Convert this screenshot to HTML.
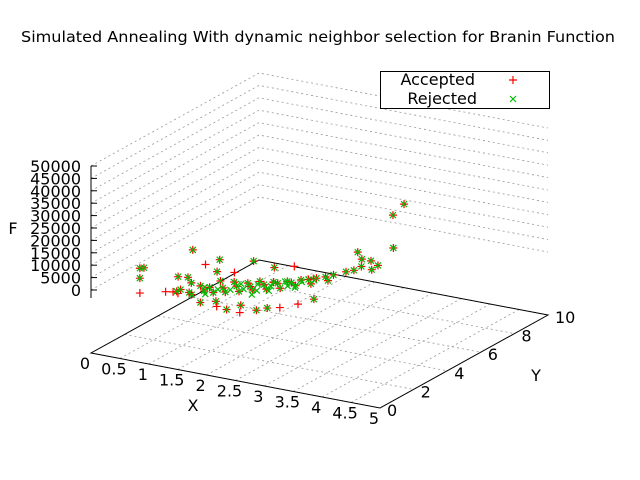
<!DOCTYPE html>
<html><head><meta charset="utf-8"><style>
html,body{margin:0;padding:0;background:#fff;}
svg{display:block;font-family:"DejaVu Sans","Liberation Sans",sans-serif;}
</style></head><body>
<svg id="chart" width="640" height="480" viewBox="0 0 640 480" xmlns="http://www.w3.org/2000/svg">
<rect width="640" height="480" fill="#fff"/>
<text x="318" y="42" text-anchor="middle" font-size="15.5" fill="#000" textLength="594" lengthAdjust="spacingAndGlyphs">Simulated Annealing With dynamic neighbor selection for Branin Function</text>
<g id="grid"></g>
<g id="axes"></g>
<g id="marks"></g>
<text x="13" y="234" text-anchor="middle" font-size="16">F</text>
<text x="193" y="411" text-anchor="middle" font-size="16">X</text>
<text x="536" y="381" text-anchor="middle" font-size="16">Y</text>
<g>
<rect x="380.5" y="71.5" width="169" height="37" fill="#fff" stroke="#000"/>
<text x="475" y="85" text-anchor="end" font-size="16">Accepted</text>
<text x="477" y="104" text-anchor="end" font-size="16">Rejected</text>
<path d="M509 80h8M513 76v8" stroke="#f00" stroke-width="1.2"/>
<path d="M510 96l6 6M516 96l-6 6" stroke="#0b0" stroke-width="1.2"/>
</g>
</svg>
<script>
const xTicks=["0","0.5","1","1.5","2","2.5","3","3.5","4","4.5","5"];
const yTicks=["0","2","4","6","8","10"];
const zTicks=["0","5000","10000","15000","20000","25000","30000","35000","40000","45000","50000"];
// Accepted points [x,y,F]
const accepted=[[0.7,0.5,0],[1.0,1.0,0],[1.1,1.1,0],[1.2,1.05,0],[0.7,0.5,10000],[0.8,0.4,11000],[0.7,0.5,6000],
[1.2,1.2,1000],[1.25,0.8,2000],[1.3,1.5,3000],[1.35,1.2,500],[1.4,1.7,1500],[1.45,1.0,800],[1.5,1.9,600],[1.55,1.4,1200],[1.6,2.2,2500],[1.65,1.6,300],[1.7,2.0,900],[1.75,2.5,1600],[1.8,1.8,400],[1.85,2.3,1100],[1.9,2.8,700],[1.95,2.1,200],[2.0,2.6,500],[2.05,3.0,1300],[2.1,2.4,300],[2.15,2.9,800],[2.2,3.3,600],[2.25,2.7,200],[2.3,3.2,900],[2.35,3.6,400],[2.4,3.0,100],[2.45,3.5,700],[2.5,3.9,500],[2.55,3.4,300],[2.6,4.0,800],[2.65,4.3,400],[2.7,3.8,200],[2.75,4.5,600],[2.8,4.8,500],[2.85,4.3,300],[2.9,5.2,700],[2.95,5.5,400],
[1.7,0.66,0],[2.0,0.6,0],[2.2,0.5,0],[2.44,0.46,0],[2.6,0.9,0],[2.84,1.47,0],[2.3,1.0,300],[1.9,0.9,500],[2.7,1.2,200],[3.0,2.0,100],[3.1,2.6,300],
[1.18,2.0,13900],[1.4,2.0,9000],[1.5,2.5,9500],[1.6,2.0,7000],[1.9,2.0,8000],[2.0,2.8,10000],[2.3,3.0,8000],[2.5,3.5,7500],[1.3,1.3,6000],[1.1,1.4,5000],[2.4,2.6,4000],[2.8,3.6,3500],
[2.9,5.9,6000],[3.0,5.8,4000],[3.05,5.6,2000],[3.2,5.7,1000],[3.25,5.9,2200],[3.1,6.0,3000],[3.4,6.3,8400],[2.55,9.2,7000],[2.8,9.0,13300]];
// Rejected points [x,y,F]
const rejected=[[0.7,0.5,10000],[0.8,0.4,11000],[0.7,0.5,6000],
[1.2,1.2,1000],[1.25,0.8,2000],[1.3,1.5,3000],[1.35,1.2,500],[1.4,1.7,1500],[1.45,1.0,800],[1.5,1.9,600],[1.55,1.4,1200],[1.6,2.2,2500],[1.65,1.6,300],[1.7,2.0,900],[1.75,2.5,1600],[1.8,1.8,400],[1.85,2.3,1100],[1.9,2.8,700],[1.95,2.1,200],[2.0,2.6,500],[2.05,3.0,1300],[2.1,2.4,300],[2.15,2.9,800],[2.2,3.3,600],[2.25,2.7,200],[2.3,3.2,900],[2.35,3.6,400],[2.4,3.0,100],[2.45,3.5,700],[2.5,3.9,500],[2.55,3.4,300],[2.6,4.0,800],[2.65,4.3,400],[2.7,3.8,200],[2.75,4.5,600],[2.8,4.8,500],[2.85,4.3,300],[2.9,5.2,700],[2.95,5.5,400],
[1.7,0.66,0],[2.2,0.5,0],[2.6,0.9,0],[2.3,1.0,300],[1.9,0.9,500],[2.7,1.2,200],[3.1,2.6,300],
[1.18,2.0,13900],[1.5,2.5,9500],[1.6,2.0,7000],[2.0,2.8,10000],[2.3,3.0,8000],[1.3,1.3,6000],[1.1,1.4,5000],
[2.9,5.9,6000],[3.0,5.8,4000],[3.05,5.6,2000],[3.2,5.7,1000],[3.25,5.9,2200],[3.1,6.0,3000],[3.4,6.3,8400],[2.55,9.2,7000],[2.8,9.0,13300],
[1.5,1.6,1800],[1.7,1.7,1400],[1.9,2.4,1900],[2.0,2.2,1000],[2.1,2.7,1500],[2.2,2.3,900],[2.3,2.8,1200],[2.4,3.3,1700],[2.5,3.1,1100],[2.6,3.6,1300],[1.6,1.3,600],[1.8,2.1,200],[2.2,2.0,400],[2.6,3.2,500],[2.7,4.0,900],[2.35,2.5,700]];

const NS="http://www.w3.org/2000/svg";
const O=[91,353],EX=[57.8,11],EY=[16.8,-9.3],ZOFF=-63,ZS=124/50000;
function P(x,y,z){return [O[0]+x*EX[0]+y*EY[0], O[1]+x*EX[1]+y*EY[1]+ZOFF-z*ZS];}
function F(x,y){return [O[0]+x*EX[0]+y*EY[0], O[1]+x*EX[1]+y*EY[1]];}
function mk(tag,attrs,parent){const e=document.createElementNS(NS,tag);for(const k in attrs)e.setAttribute(k,attrs[k]);parent.appendChild(e);return e;}
const grid=document.getElementById('grid'),axes=document.getElementById('axes'),marks=document.getElementById('marks');
const dash={stroke:"#999","stroke-width":"0.8","stroke-dasharray":"2,3",fill:"none"};
xTicks.forEach(t=>{const v=parseFloat(t);const a=F(v,0),b=F(v,10);
 const l=mk('line',Object.assign({x1:a[0],y1:a[1],x2:b[0],y2:b[1]},dash),grid);
 
 
 const tx=mk('text',{x:a[0]-6,y:a[1]+16,"text-anchor":"middle","font-size":"16"},axes);
 
 
 tx.textContent=t;});
yTicks.forEach(t=>{const v=parseFloat(t);const a=F(0,v),b=F(5,v);
 const l=mk('line',Object.assign({x1:a[0],y1:a[1],x2:b[0],y2:b[1]},dash),grid);
 
 
 const tx=mk('text',{x:b[0]+7,y:b[1]+8,"text-anchor":"start","font-size":"16"},axes);
 
 
 tx.textContent=t;});
zTicks.forEach(t=>{const v=parseFloat(t);const a=P(0,0,v),b=P(0,10,v),c=P(5,10,v);
 const l=mk('polyline',Object.assign({points:`${a[0]},${a[1]} ${b[0]},${b[1]} ${c[0]},${c[1]}`},dash),grid);
 
 
 const tk=mk('line',{x1:a[0],y1:a[1],x2:a[0]+6,y2:a[1],stroke:"#000","stroke-width":"1"},axes);
 
 
 const tx=mk('text',{x:81,y:a[1]+6,"text-anchor":"end","font-size":"16"},axes);
 
 
 tx.textContent=t;});
const c1=F(0,0),c2=F(5,0),c3=F(5,10),c4=F(0,10);
const border=mk('polygon',{fill:"none",stroke:"#000","stroke-width":"1"},axes);
border.setAttribute('points',[c1,c2,c3,c4].map(p=>p.join(',')).join(' '));


const za=P(0,0,0),zb=P(0,0,50000);
const zl=mk('line',{x1:za[0],y1:za[1]+8,x2:zb[0],y2:zb[1],stroke:"#000","stroke-width":"1"},axes);


accepted.forEach(p=>{const s=P(p[0],p[1],p[2]);
 const m=mk('path',{d:`M${s[0]-4} ${s[1]}h8M${s[0]} ${s[1]-4}v8`,stroke:"#f00","stroke-width":"1.2"},marks);
 
 });
rejected.forEach(p=>{const s=P(p[0],p[1],p[2]);
 const m=mk('path',{d:`M${s[0]-3} ${s[1]-3}l6 6M${s[0]+3} ${s[1]-3}l-6 6`,stroke:"#0b0","stroke-width":"1.2"},marks);
 
 });
</script>
</body></html>
